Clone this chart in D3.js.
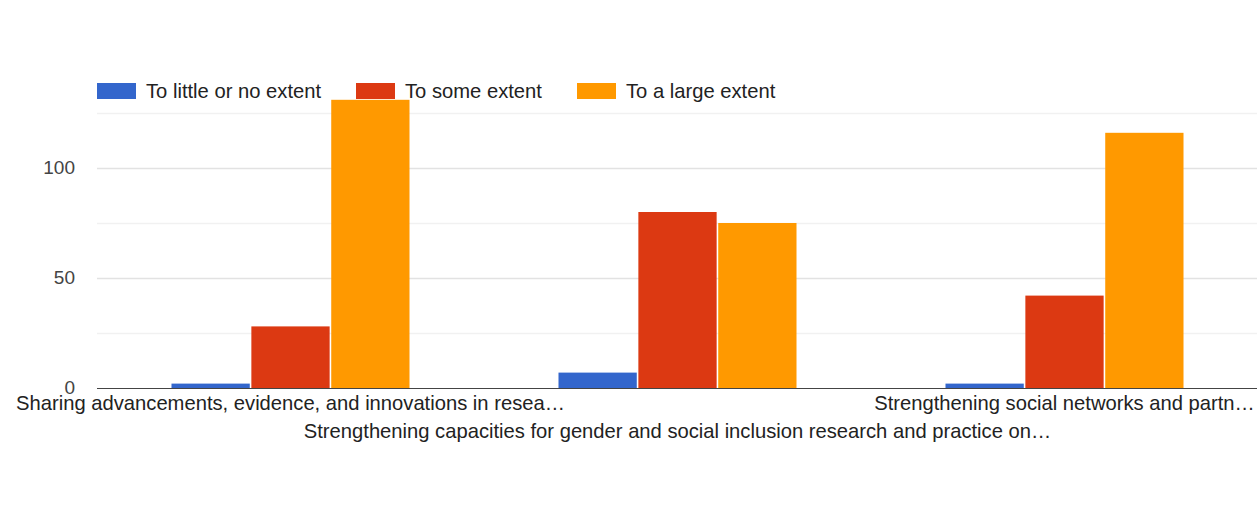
<!DOCTYPE html>
<html>
<head>
<meta charset="utf-8">
<script src="https://cdn.jsdelivr.net/npm/d3@7"></script>
<style>
  html, body { margin: 0; padding: 0; background: #fff; }
  svg { display: block; font-family: "Liberation Sans", Arial, sans-serif; }
</style>
</head>
<body>
<svg id="chart" width="1257" height="507"></svg>
<script>
// Survey categories (axis labels are truncated the way they appear on the axis)
const categories = [
  "Sharing advancements, evidence, and innovations in resea\u2026",
  "Strengthening capacities for gender and social inclusion research and practice on\u2026",
  "Strengthening social networks and partn\u2026"
];
const seriesNames = ["To little or no extent", "To some extent", "To a large extent"];
const littleOrNone = [2, 7, 2];
const someExtent = [28, 80, 42];
const largeExtent = [131, 75, 116];
const seriesColors = ["#3366cc", "#dc3912", "#ff9900"];
const yTicks = [0, 25, 50, 75, 100, 125];
const yLabelTicks = [0, 50, 100];

const seriesValues = [littleOrNone, someExtent, largeExtent];
const rows = categories.map((c, i) => ({
  category: c,
  values: seriesNames.map((s, k) => ({ series: s, k, value: seriesValues[k][i] }))
}));

const svg = d3.select("#chart");
const plot = { left: 97, right: 1258, top: 113, bottom: 388 };

const x0 = d3.scaleBand().domain(d3.range(categories.length))
  .range([plot.left, plot.right]).paddingInner(0).paddingOuter(0);
const groupFrac = 0.615;
const groupW = x0.bandwidth() * groupFrac;
const x1 = d3.scaleBand().domain(d3.range(seriesNames.length))
  .range([0, groupW]).paddingInner(0.02);
const y = d3.scaleLinear().domain([0, 125]).range([plot.bottom, plot.top]);

// gridlines
svg.append("g").selectAll("line").data(yTicks.filter(t => t > 0)).join("line")
  .attr("x1", plot.left).attr("x2", plot.right)
  .attr("y1", d => y(d) + 0.5).attr("y2", d => y(d) + 0.5)
  .attr("stroke", d => yLabelTicks.includes(d) ? "#e2e2e2" : "#f1f1f1")
  .attr("stroke-width", 1.5);

// y axis labels
const yAxis = d3.axisLeft(y).tickValues(yLabelTicks).tickSize(0).tickPadding(0);
const yg = svg.append("g").attr("transform", `translate(${plot.left - 22},-1)`).call(yAxis);
yg.select(".domain").remove();
yg.selectAll("text").attr("fill", "#444").style("font-size", "19px")
  .attr("font-family", "Liberation Sans, Arial, sans-serif");

// bars
const groups = svg.append("g").selectAll("g").data(rows).join("g")
  .attr("transform", (d, i) => `translate(${x0(i) + (x0.bandwidth() - groupW) / 2},0)`);
groups.selectAll("rect").data(d => d.values).join("rect")
  .attr("x", d => x1(d.k))
  .attr("width", x1.bandwidth())
  .attr("y", d => y(d.value))
  .attr("height", d => y(0) - y(d.value))
  .attr("fill", d => seriesColors[d.k]);

// baseline
svg.append("line")
  .attr("x1", plot.left).attr("x2", plot.right)
  .attr("y1", y(0) + 0.5).attr("y2", y(0) + 0.5)
  .attr("stroke", "#444").attr("stroke-width", 1.2);

// category labels, alternating rows
svg.append("g").selectAll("text").data(categories).join("text")
  .attr("x", (d, i) => x0(i) + x0.bandwidth() / 2)
  .attr("y", (d, i) => i % 2 === 0 ? 410 : 438)
  .attr("text-anchor", "middle")
  .attr("fill", "#222")
  .style("font-size", "20.2px")
  .text(d => d);

// legend
const legendX = [97, 356, 577];
const lg = svg.append("g").selectAll("g").data(seriesNames).join("g")
  .attr("transform", (d, i) => `translate(${legendX[i]},0)`);
lg.append("rect").attr("x", 0).attr("y", 83).attr("width", 39).attr("height", 16)
  .attr("fill", (d, i) => seriesColors[i]);
lg.append("text").attr("x", 49).attr("y", 98).attr("fill", "#222")
  .style("font-size", "20.2px").text(d => d);
</script>
</body>
</html>
